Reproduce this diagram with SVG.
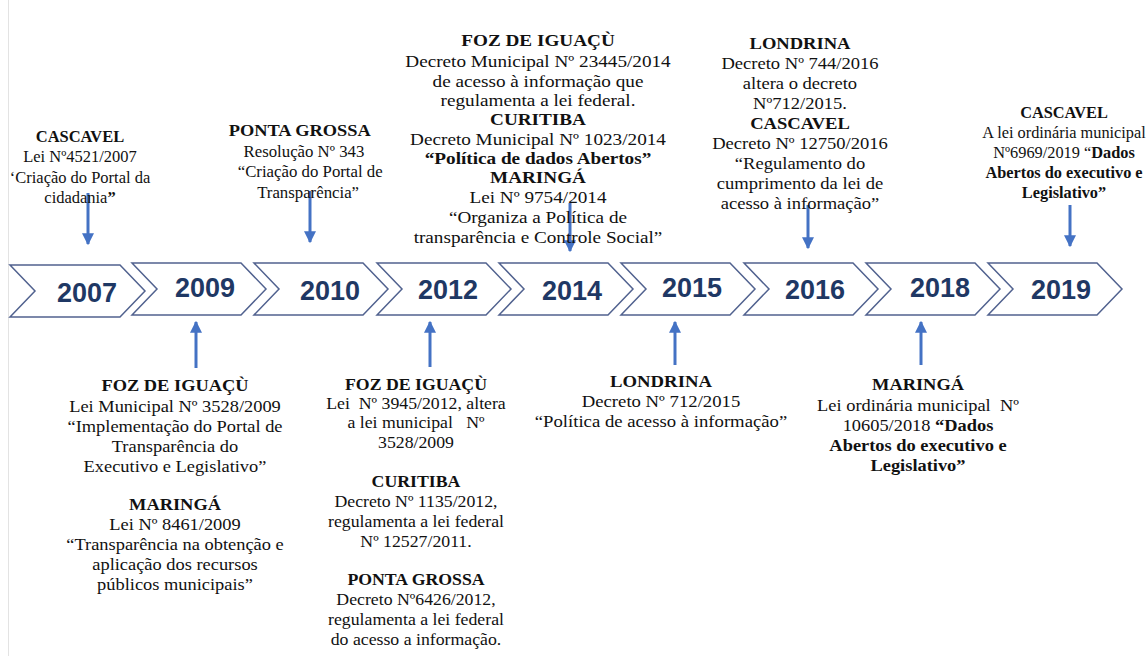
<svg xmlns="http://www.w3.org/2000/svg" width="1148" height="656" viewBox="0 0 1148 656">
<defs>
<style>
.chev{fill:#fff;stroke:#51628f;stroke-width:1.5}
.yr{font-family:"Liberation Sans",Arial,sans-serif;font-weight:bold;font-size:27px;fill:#1f3864;text-anchor:middle}
.t{font-family:"Liberation Serif","Times New Roman",serif;font-size:16px;fill:#111;text-anchor:middle;white-space:pre}
.b{font-weight:bold}
.arr{stroke:#4472c4;stroke-width:3;fill:none;marker-end:url(#ah)}
</style>
<marker id="ah" viewBox="0 0 10 10" refX="9" refY="5" markerWidth="4" markerHeight="4" orient="auto" markerUnits="strokeWidth">
<path d="M0,0 L10,5 L0,10 Z" fill="#4472c4"/>
</marker>
</defs>
<rect width="1148" height="656" fill="#fff"/>
<line x1="8.5" y1="0" x2="8.5" y2="656" stroke="#e3e3e3" stroke-width="1"/>

<g id="timeline">
<g id="y2007"><path class="chev" d="M10,265 L120,265 L145,291 L120,317 L10,317 L35,291 Z"/><text class="yr" x="87" y="302">2007</text></g>
<g id="y2009"><path class="chev" d="M132,263 L241,263 L266,289 L241,315 L132,315 L157,289 Z"/><text class="yr" x="205" y="297">2009</text></g>
<g id="y2010"><path class="chev" d="M254,263 L363,263 L388,289 L363,315 L254,315 L279,289 Z"/><text class="yr" x="330" y="300">2010</text></g>
<g id="y2012"><path class="chev" d="M377,263 L486,263 L511,289 L486,315 L377,315 L402,289 Z"/><text class="yr" x="448" y="299">2012</text></g>
<g id="y2014"><path class="chev" d="M499,263 L608,263 L633,289 L608,315 L499,315 L524,289 Z"/><text class="yr" x="572" y="300">2014</text></g>
<g id="y2015"><path class="chev" d="M621,263 L730,263 L755,289 L730,315 L621,315 L646,289 Z"/><text class="yr" x="692" y="297">2015</text></g>
<g id="y2016"><path class="chev" d="M744,263 L853,263 L878,289 L853,315 L744,315 L769,289 Z"/><text class="yr" x="815" y="299">2016</text></g>
<g id="y2018"><path class="chev" d="M866,263 L975,263 L1000,289 L975,315 L866,315 L891,289 Z"/><text class="yr" x="940" y="297">2018</text></g>
<g id="y2019"><path class="chev" d="M988,263 L1097,263 L1122,289 L1097,315 L988,315 L1013,289 Z"/><text class="yr" x="1061" y="299">2019</text></g>
</g>

<g id="connectors">
<line class="arr" x1="88" y1="193" x2="88" y2="244"/>
<line class="arr" x1="310" y1="191" x2="310" y2="242"/>
<line class="arr" x1="570" y1="203" x2="570" y2="251"/>
<line class="arr" x1="808" y1="205" x2="808" y2="248"/>
<line class="arr" x1="1070" y1="205" x2="1070" y2="246"/>
<line class="arr" x1="196" y1="368" x2="196" y2="322"/>
<line class="arr" x1="430" y1="367" x2="430" y2="322"/>
<line class="arr" x1="675" y1="365" x2="675" y2="322"/>
<line class="arr" x1="921" y1="365" x2="921" y2="322"/>
</g>

<g id="n2007" transform="translate(80 0) scale(1.03 1)">
<text class="t"><tspan x="0" y="142" class="b">CASCAVEL</tspan><tspan x="0" y="162">Lei Nº4521/2007</tspan><tspan x="0" y="183">‘Criação do Portal da</tspan><tspan x="0" y="203">cidadania<tspan class="b">”</tspan></tspan></text>
</g>

<g id="n2010" transform="translate(306 0) scale(1.05 1)">
<text class="t"><tspan x="-6" y="136" class="b" style="font-size:17.5px">PONTA GROSSA</tspan><tspan x="-2" y="157">Resolução Nº 343</tspan><tspan x="4" y="177">“Criação do Portal de</tspan><tspan x="2" y="198">Transparência”</tspan></text>
</g>

<g id="n2014" transform="translate(538 0) scale(1.2 1)">
<text class="t"><tspan x="0" y="46" class="b">FOZ DE IGUAÇÙ</tspan><tspan x="0" y="67">Decreto Municipal Nº 23445/2014</tspan><tspan x="0" y="87">de acesso à informação que</tspan><tspan x="0" y="106">regulamenta a lei federal.</tspan><tspan x="0" y="125" class="b">CURITIBA</tspan><tspan x="0" y="145">Decreto Municipal Nº 1023/2014</tspan><tspan x="0" y="164" class="b">“Política de dados Abertos”</tspan><tspan x="0" y="183" class="b">MARINGÁ</tspan><tspan x="0" y="203">Lei Nº 9754/2014</tspan><tspan x="0" y="223">“Organiza a Política de</tspan><tspan x="0" y="243">transparência e Controle Social”</tspan></text>
</g>

<g id="n2016" transform="translate(800 0) scale(1.16 1)">
<text class="t"><tspan x="0" y="49" class="b">LONDRINA</tspan><tspan x="0" y="69">Decreto Nº 744/2016</tspan><tspan x="0" y="89">altera o decreto</tspan><tspan x="0" y="109">Nº712/2015.</tspan><tspan x="0" y="129" class="b">CASCAVEL</tspan><tspan x="0" y="149">Decreto Nº 12750/2016</tspan><tspan x="0" y="169">“Regulamento do</tspan><tspan x="0" y="189">cumprimento da lei de</tspan><tspan x="0" y="209">acesso à informação”</tspan></text>
</g>

<g id="n2019" transform="translate(1064 0) scale(1.02 1)">
<text class="t"><tspan x="0" y="118" class="b">CASCAVEL</tspan><tspan x="0" y="138">A lei ordinária municipal</tspan><tspan x="0" y="158">Nº6969/2019 “<tspan class="b">Dados</tspan></tspan><tspan x="0" y="178" class="b">Abertos do executivo e</tspan><tspan x="0" y="198" class="b">Legislativo”</tspan></text>
</g>

<g id="n2009" transform="translate(175 0) scale(1.15 1)">
<text class="t"><tspan x="0" y="391" class="b">FOZ DE IGUAÇÙ</tspan><tspan x="0" y="412">Lei Municipal Nº 3528/2009</tspan><tspan x="0" y="432">“Implementação do Portal de</tspan><tspan x="0" y="452">Transparência do</tspan><tspan x="0" y="472">Executivo e Legislativo”</tspan><tspan x="0" y="510" class="b">MARINGÁ</tspan><tspan x="0" y="530">Lei Nº 8461/2009</tspan><tspan x="0" y="550">“Transparência na obtenção e</tspan><tspan x="0" y="570">aplicação dos recursos</tspan><tspan x="0" y="590">públicos municipais”</tspan></text>
</g>

<g id="n2012" transform="translate(416 0) scale(1.11 1)">
<text class="t"><tspan x="0" y="390" class="b">FOZ DE IGUAÇÙ</tspan><tspan x="0" y="409">Lei  Nº 3945/2012, altera</tspan><tspan x="0" y="428">a lei municipal   Nº</tspan><tspan x="0" y="448">3528/2009</tspan><tspan x="0" y="487" class="b">CURITIBA</tspan><tspan x="0" y="507">Decreto Nº 1135/2012,</tspan><tspan x="0" y="527">regulamenta a lei federal</tspan><tspan x="0" y="547">Nº 12527/2011.</tspan><tspan x="0" y="585" class="b">PONTA GROSSA</tspan><tspan x="0" y="605">Decreto Nº6426/2012,</tspan><tspan x="0" y="625">regulamenta a lei federal</tspan><tspan x="0" y="645">do acesso a informação.</tspan></text>
</g>

<g id="n2015" transform="translate(661 0) scale(1.17 1)">
<text class="t"><tspan x="0" y="387" class="b">LONDRINA</tspan><tspan x="0" y="407">Decreto Nº 712/2015</tspan><tspan x="0" y="427">“Política de acesso à informação”</tspan></text>
</g>

<g id="n2018" transform="translate(918 0) scale(1.15 1)">
<text class="t"><tspan x="0" y="390" class="b">MARINGÁ</tspan><tspan x="0" y="411">Lei ordinária municipal  Nº</tspan><tspan x="0" y="431">10605/2018 <tspan class="b">“Dados</tspan></tspan><tspan x="0" y="451" class="b">Abertos do executivo e</tspan><tspan x="0" y="471" class="b">Legislativo”</tspan></text>
</g>
</svg>
